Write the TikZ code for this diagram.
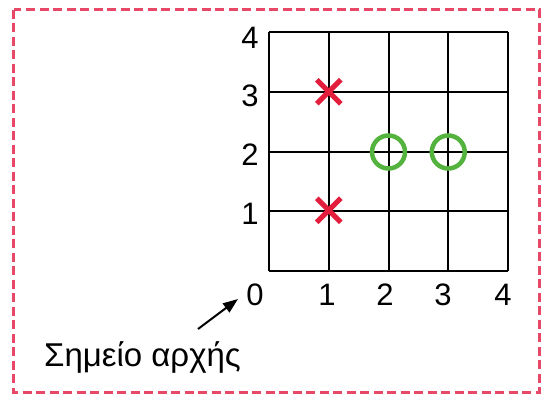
\documentclass[tikz,border=0pt]{standalone}
\usepackage{fontspec}
\setmainfont{Liberation Sans}
\usetikzlibrary{arrows.meta}
\definecolor{dashcol}{RGB}{232,72,104}
\definecolor{xred}{RGB}{226,30,60}
\definecolor{ogreen}{RGB}{84,178,62}
\tikzset{
  gridline/.style={line width=2pt, black},
  lbl/.style={font=\fontsize{31}{37}\selectfont, inner sep=0pt},
  xmark/.style={line width=5pt, xred},
  omark/.style={line width=4.5pt, ogreen},
  frame/.style={line width=3pt, dashcol, dash pattern=on 9pt off 4.5pt}
}
\begin{document}
\begin{tikzpicture}[x=1pt,y=-1pt]
\useasboundingbox (0,0) rectangle (543,394);
\draw[frame] (13.5,9.5) rectangle (539.5,392);
% grid
\foreach \i in {0,...,4} {
  \draw[gridline] (269+59.75*\i,32) -- (269+59.75*\i,271);
  \draw[gridline] (269,32+59.75*\i) -- (508,32+59.75*\i);
}
% y labels
\node[lbl] (y4) at (250,38) {4};
\node[lbl] (y3) at (250,96) {3};
\node[lbl] (y2) at (250,155) {2};
\node[lbl] (y1) at (250,214) {1};
% x labels
\node[lbl] (x0) at (255,295) {0};
\node[lbl] (x1) at (327,295) {1};
\node[lbl] (x2) at (385,295) {2};
\node[lbl] (x3) at (443,295) {3};
\node[lbl] (x4) at (503,295) {4};
% marks
\foreach \cx/\cy in {328.75/91.75, 328.75/210.25} {
  \draw[xmark] (\cx-12,\cy-12) -- (\cx+12,\cy+12);
  \draw[xmark] (\cx-12,\cy+12) -- (\cx+12,\cy-12);
}
\draw[omark] (388.5,152) circle (16.5);
\draw[omark] (448.25,152) circle (16.5);
% label and arrow
\node[font=\fontsize{33}{39}\selectfont, inner sep=0pt, anchor=base] (start) at (142.5,366) {Σημείο αρχής};
\coordinate (a1) at (198,329);
\coordinate (a2) at (238,299);
\draw[line width=2pt, -{Triangle[length=15pt,width=11pt]}] (a1) -- (a2);
\end{tikzpicture}
\end{document}
